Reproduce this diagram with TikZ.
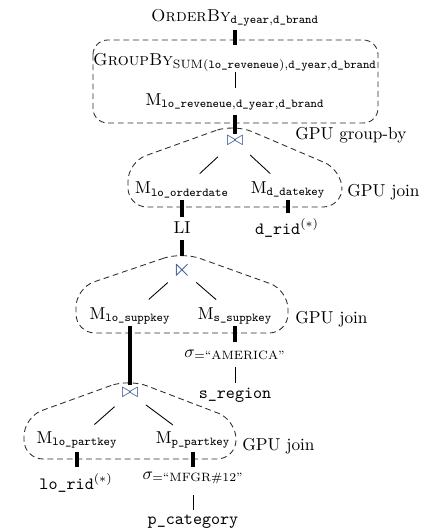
\documentclass[tikz,border=0pt]{standalone}
\usepackage{amsmath}
\usepackage{amssymb}
\definecolor{joincol}{RGB}{62,90,150}
\definecolor{regioncol}{RGB}{45,45,45}
\begin{document}
\begin{tikzpicture}[x=0.58pt,y=-0.58pt,
  lbl/.style={inner sep=0pt, outer sep=0pt},
  op/.style={inner sep=0pt, outer sep=0pt, text=joincol, font=\large},
  heavy/.style={line width=1.8pt},
  light/.style={line width=0.5pt},
  region/.style={draw=regioncol, line width=0.5pt, dash pattern=on 3.4pt off 2.2pt},
  tag/.style={inner sep=0pt, anchor=west}]
\useasboundingbox (0,0) rectangle (431,529);

% operators of the plan, top to bottom
\node[lbl] (ob) at (235,18) {\textsc{OrderBy}$_{\texttt{d\_year},\texttt{d\_brand}}$};
\node[lbl] (gb) at (235,62) {\textsc{GroupBy}$_{\text{SUM}(\texttt{lo\_reveneue}),\texttt{d\_year},\texttt{d\_brand}}$};
\node[lbl] (mg) at (235,102) {$\mathrm{M}_{\texttt{lo\_reveneue},\texttt{d\_year},\texttt{d\_brand}}$};

\node[op] (j1) at (235,141) {$\bowtie$};
\node[lbl] (m1a) at (182,190) {$\mathrm{M}_{\texttt{lo\_orderdate}}$};
\node[lbl] (m1b) at (288,190) {$\mathrm{M}_{\texttt{d\_datekey}}$};
\node[lbl] (li) at (182,228) {LI};
\node[lbl] (drid) at (287,228) {\texttt{d\_rid}$^{(*)}$};

\node[op, font=\Large] (j2) at (182,270) {$\ltimes$};
\node[lbl] (m2a) at (130,316) {$\mathrm{M}_{\texttt{lo\_suppkey}}$};
\node[lbl] (m2b) at (235,316) {$\mathrm{M}_{\texttt{s\_suppkey}}$};
\node[lbl] (sig1) at (235,355) {$\sigma_{=\text{``AMERICA''}}$};
\node[lbl] (sreg) at (235,395) {\texttt{s\_region}};

\node[op] (j3) at (130,393) {$\bowtie$};
\node[lbl] (m3a) at (77,440) {$\mathrm{M}_{\texttt{lo\_partkey}}$};
\node[lbl] (m3b) at (193,440) {$\mathrm{M}_{\texttt{p\_partkey}}$};
\node[lbl] (lorid) at (76,483) {\texttt{lo\_rid}$^{(*)}$};
\node[lbl] (sig2) at (193,478) {$\sigma_{=\text{``MFGR\#12''}}$};
\node[lbl] (pcat) at (193,522) {\texttt{p\_category}};

% dashed GPU regions
\draw[region, rounded corners=8.5pt] (93,40) rectangle (378,123);
\draw[region, rounded corners=11pt] (234,124) -- (128,162) -- (128,207) -- (342,207) -- (342,170) -- cycle;
\draw[region, rounded corners=11pt] (182,252) -- (76,288) -- (76,333) -- (288,333) -- (288,290) -- cycle;
\draw[region, rounded corners=11pt] (129,379) -- (24,417) -- (24,459) -- (236,459) -- (236,420) -- cycle;

\node[tag] (t0) at (295,135) {GPU group-by};
\node[tag] (t1) at (347,192) {GPU join};
\node[tag] (t2) at (295,319) {GPU join};
\node[tag] (t3) at (242,446) {GPU join};

% data flow edges
\draw[heavy, shorten <=7pt, shorten >=9.9pt] (ob.center) -- (gb.center);
\draw[light, shorten <=5.8pt, shorten >=8.1pt] (gb.center) -- (mg.center);
\draw[heavy, shorten <=7.5pt, shorten >=4pt] (mg.center) -- (j1.center);

\draw[light, shorten <=13.5pt, shorten >=14pt] (j1.center) -- (m1a.center);
\draw[light, shorten <=12pt, shorten >=14pt] (j1.center) -- (m1b.center);
\draw[heavy, shorten <=5.8pt, shorten >=6.4pt] (m1a.center) -- (li.center);
\draw[heavy, shorten <=5.8pt, shorten >=8.7pt] (m1b.center) -- (m1b.center |- drid.center);
\draw[heavy, shorten <=7pt, shorten >=8.1pt] (li.center) -- (j2.center);

\draw[light, shorten <=11pt, shorten >=14.5pt] (j2.center) -- (m2a.center);
\draw[light, shorten <=11pt, shorten >=14.5pt] (j2.center) -- (m2b.center);
\draw[heavy, shorten <=5.8pt, shorten >=4.6pt] (m2a.center) -- (j3.center);
\draw[heavy, shorten <=5.8pt, shorten >=7.5pt] (m2b.center) -- (sig1.center);
\draw[light, shorten <=7pt, shorten >=7pt] (sig1.center) -- (sreg.center);

\draw[light, shorten <=12pt, shorten >=13.5pt] (j3.center) -- (m3a.center);
\draw[light, shorten <=11.5pt, shorten >=14.5pt] (j3.center) -- (m3b.center);
\draw[heavy, shorten <=7pt, shorten >=9.3pt] (m3a.center) -- (m3a.center |- lorid.center);
\draw[heavy, shorten <=7pt, shorten >=6.4pt] (m3b.center) -- (sig2.center);
\draw[light, shorten <=9.9pt, shorten >=7pt] (sig2.center) -- (pcat.center);
\end{tikzpicture}
\end{document}
